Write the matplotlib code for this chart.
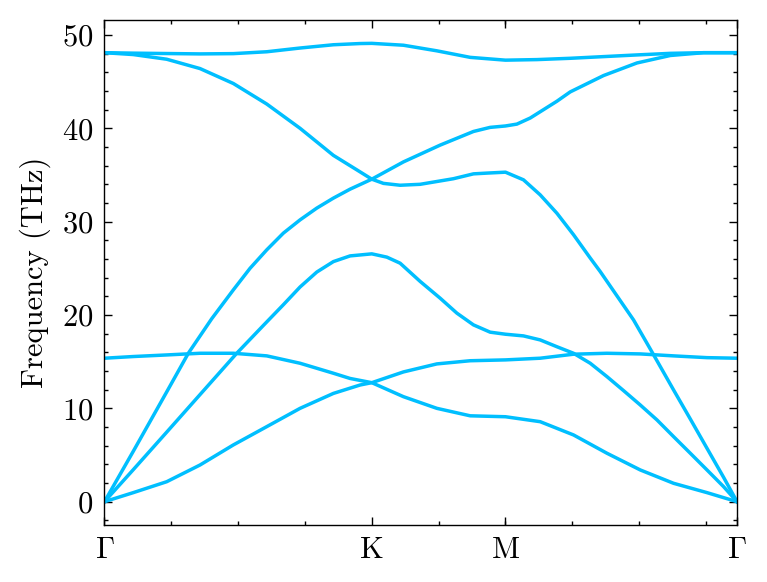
import matplotlib
matplotlib.use("Agg")
import matplotlib.pyplot as plt
from matplotlib.ticker import AutoMinorLocator, MultipleLocator

plt.rcParams["font.family"] = "serif"
plt.rcParams["font.serif"] = ["cmr10"]
plt.rcParams["mathtext.fontset"] = "cm"
plt.rcParams["axes.formatter.use_mathtext"] = True
plt.rcParams["axes.unicode_minus"] = False

# high-symmetry points along the path
sym_pos = [0.0, 1.3333, 2.0, 3.1547]
sym_labels = [r"$\Gamma$", "K", "M", r"$\Gamma$"]

# phonon branches (k-distance, frequency in THz)
k_za = [0, 0.1437, 0.3104, 0.4765, 0.6427, 0.8094, 0.9755, 1.1417, 1.2749, 1.3333,
        1.4910, 1.6577, 1.8239, 2.0, 2.1731, 2.3393, 2.5060, 2.6722, 2.8383, 3.005, 3.1547]
f_za = [0, 0.97, 2.14, 3.93, 6.08, 8.04, 10.0, 11.6, 12.5, 12.75,
        11.25, 10.0, 9.2, 9.1, 8.57, 7.15, 5.19, 3.4, 1.97, 0.97, 0]

k_zo = [0, 0.1437, 0.3104, 0.4765, 0.6427, 0.8094, 0.9755, 1.1417, 1.2250, 1.3333,
        1.4910, 1.6577, 1.8239, 2.0, 2.1731, 2.3393, 2.5060, 2.6722, 2.8383, 3.005, 3.1547]
f_zo = [15.37, 15.55, 15.72, 15.9, 15.9, 15.62, 14.83, 13.76, 13.2, 12.75,
        13.9, 14.76, 15.1, 15.19, 15.37, 15.8, 15.9, 15.83, 15.62, 15.43, 15.37]

k_ta = [0, 0.1437, 0.3104, 0.4765, 0.6597, 0.7933, 0.8922, 0.9755, 1.0589, 1.1417, 1.2250, 1.3333,
        1.4082, 1.4745, 1.5743, 1.6742, 1.7575, 1.8403, 1.9236, 2.0,
        2.0898, 2.1731, 2.2565, 2.3393, 2.4227, 2.5060, 2.5888, 2.6722, 2.7555,
        2.8383, 2.9217, 3.005, 3.0878, 3.1547]
f_ta = [0, 3.43, 7.45, 11.47, 15.9, 18.9, 21.1, 23.0, 24.6, 25.72, 26.33, 26.55,
        26.2, 25.55, 23.6, 21.8, 20.2, 18.94, 18.16, 17.94,
        17.76, 17.33, 16.6, 15.9, 14.83, 13.4, 11.9, 10.36, 8.76,
        6.97, 5.19, 3.4, 1.61, 0]

k_la = [0, 0.1437, 0.3104, 0.4182, 0.5349, 0.6427, 0.7260, 0.8094, 0.8922, 0.9755,
        1.0589, 1.1417, 1.2250, 1.3333, 1.4910, 1.6742, 1.8403, 1.9236, 2.0,
        2.0569, 2.1233, 2.2565, 2.3229, 2.4890, 2.6557, 2.8219, 2.9880, 3.1547]
f_la = [0, 5.4, 11.76, 15.9, 19.6, 22.69, 25.0, 26.98, 28.77, 30.19,
        31.45, 32.52, 33.48, 34.55, 36.4, 38.2, 39.66, 40.1, 40.25,
        40.45, 41.1, 42.9, 43.9, 45.65, 47.0, 47.8, 48.1, 48.1]

k_lo = [0, 0.1437, 0.3104, 0.4765, 0.6427, 0.8094, 0.9755, 1.1417, 1.2585, 1.3333,
        1.3912, 1.4745, 1.5743, 1.7405, 1.8403, 1.9072, 2.0,
        2.0898, 2.1731, 2.2565, 2.3393, 2.4227, 2.4726, 2.6387, 2.7370,
        2.8383, 2.9217, 3.005, 3.0878, 3.1547]
f_lo = [48.1, 47.9, 47.4, 46.4, 44.8, 42.6, 40.0, 37.1, 35.55, 34.55,
        34.1, 33.9, 34.0, 34.6, 35.12, 35.2, 35.3,
        34.48, 32.87, 30.9, 28.6, 26.1, 24.65, 19.47, 15.8,
        11.97, 8.86, 5.72, 2.61, 0]

k_to = [0, 0.1437, 0.4765, 0.6427, 0.8094, 0.9755, 1.1417, 1.2749, 1.3333,
        1.4910, 1.6577, 1.8239, 2.0, 2.1567, 2.3229, 2.4890, 2.6557, 2.8219, 2.9880, 3.1547]
f_to = [48.1, 48.05, 47.97, 48.0, 48.2, 48.6, 48.95, 49.08, 49.1,
        48.9, 48.3, 47.6, 47.3, 47.36, 47.5, 47.68, 47.86, 48.03, 48.1, 48.1]

branches = [(k_za, f_za), (k_zo, f_zo), (k_ta, f_ta),
            (k_la, f_la), (k_lo, f_lo), (k_to, f_to)]

fig = plt.figure(figsize=(3.835, 2.91), dpi=200)
ax = fig.add_axes([0.1362, 0.0979, 0.8247, 0.8677])

for k, f in branches:
    ax.plot(k, f, color="#00BFFF", linewidth=1.25)

ax.set_xlim(sym_pos[0], sym_pos[-1])
ax.set_ylim(-2.5, 51.6)
ax.set_xticks(sym_pos)
ax.set_xticklabels(sym_labels)
ax.xaxis.set_minor_locator(AutoMinorLocator(4))
ax.yaxis.set_major_locator(MultipleLocator(10))
ax.yaxis.set_minor_locator(AutoMinorLocator(5))
ax.set_ylabel("Frequency (THz)", fontsize=11, labelpad=4)

ax.tick_params(which="both", direction="in", top=True, right=True,
               width=0.5, labelsize=11)
ax.tick_params(which="major", length=3, pad=4)
ax.tick_params(which="minor", length=1.5)
for s in ax.spines.values():
    s.set_linewidth(0.5)

plt.savefig("out.png", dpi=200)
